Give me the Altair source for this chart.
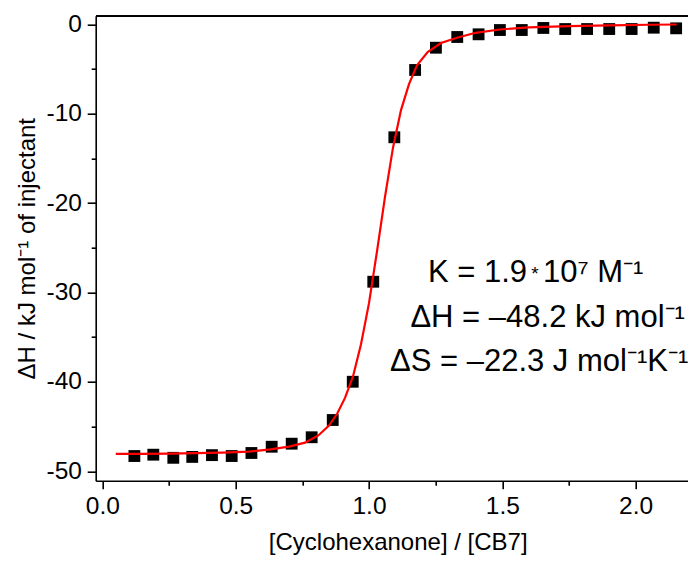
import altair as alt
import pandas as pd

# ---- data ----
ratio = [0.120, 0.191, 0.266, 0.337, 0.411, 0.485, 0.559, 0.635, 0.710, 0.785,
         0.864, 0.939, 1.016, 1.095, 1.173, 1.251, 1.331, 1.411, 1.491, 1.573,
         1.654, 1.736, 1.818, 1.901, 1.985, 2.068, 2.152]
heat = [-48.30, -48.15, -48.50, -48.40, -48.20, -48.30, -47.96, -47.26, -46.92, -46.20,
        -44.27, -39.99, -28.80, -12.64, -5.11, -2.62, -1.42, -1.12, -0.64, -0.64,
        -0.41, -0.53, -0.53, -0.53, -0.53, -0.38, -0.45]

fit_ratio = [0.05, 0.15, 0.25, 0.35, 0.45, 0.55, 0.63, 0.70, 0.76, 0.81, 0.85, 0.88,
             0.91, 0.94, 0.97, 1.00, 1.03, 1.06, 1.09, 1.12, 1.15, 1.18, 1.22, 1.27,
             1.33, 1.40, 1.49, 1.60, 1.75, 1.90, 2.05, 2.154]
fit_heat = [-48.07, -48.05, -48.02, -47.98, -47.92, -47.80, -47.55, -47.25, -46.80, -46.00,
            -44.90, -43.60, -41.80, -39.40, -35.80, -31.20, -25.40, -19.30, -13.80, -9.60,
            -6.70, -4.60, -3.10, -2.10, -1.50, -0.95, -0.58, -0.35, -0.20, -0.11, -0.05, -0.02]

# annotation pieces: text, x (data units), y (data units), align, font size
ann_text = ["K = 1.9", "*", "10\u2077 M\u207b\u00b9",
            "\u0394H = \u201348.2 kJ mol\u207b\u00b9",
            "\u0394S = \u201322.3 J mol\u207b\u00b9K\u207b\u00b9"]
ann_x = [1.5926, 1.6226, 1.6526, 1.670, 1.638]
ann_y = [-28.79, -28.60, -28.79, -33.90, -38.75]
ann_align = ["right", "center", "left", "center", "center"]
ann_size = [31, 19, 31, 31, 31]

x_major = [0.0, 0.5, 1.0, 1.5, 2.0]
x_minor = [0.25, 0.75, 1.25, 1.75]
y_major = [-50, -40, -30, -20, -10, 0]
y_minor = [-45, -35, -25, -15, -5]

x_title = "[Cyclohexanone] / [CB7]"
y_title = "\u0394H / kJ mol\u207b\u00b9 of injectant"

FONT = "Liberation Sans"

xscale = alt.Scale(domain=[-0.0251, 2.1965], nice=False, zero=False)
yscale = alt.Scale(domain=[-51.06, 0.962], nice=False, zero=False)

pts = pd.DataFrame({"r": ratio, "h": heat})
fit = pd.DataFrame({"r": fit_ratio, "h": fit_heat})
ann = pd.DataFrame({"t": ann_text, "x": ann_x, "y": ann_y, "a": ann_align, "s": ann_size})

common = dict(domainColor="black", domainWidth=1.6, tickColor="black", tickWidth=1.6,
              labelFont=FONT, labelColor="black", titleFont=FONT, titleColor="black",
              grid=False, titleFontWeight="normal")

squares = alt.Chart(pts).mark_square(size=140, color="black", opacity=1).encode(
    x=alt.X("r:Q", scale=xscale, axis=alt.Axis(
        orient="bottom", values=x_major, format=".1f", tickSize=8,
        labelFontSize=24.5, labelPadding=24.5, labelBaseline="alphabetic",
        title=x_title, titleFontSize=24, titleX=302, titleY=68.3,
        titleBaseline="alphabetic", titleAlign="center", **common)),
    y=alt.Y("h:Q", scale=yscale, axis=alt.Axis(
        orient="left", values=y_major,
        labelExpr="datum.value < 0 ? '-' + abs(datum.value) : '' + datum.value",
        tickSize=8.5, labelPadding=5.7, labelFontSize=24.5,
        title=y_title, titleFontSize=24, titleAngle=270, titleX=-60.7, titleY=232.5,
        titleBaseline="alphabetic", titleAlign="center", **common)),
)

line = alt.Chart(fit).mark_line(color="#ff0000", strokeWidth=2.2).encode(
    x=alt.X("r:Q", scale=xscale, axis=alt.Axis(
        orient="bottom", values=x_minor, tickSize=4.5, labels=False, domain=False,
        title=None, **common)),
    y=alt.Y("h:Q", scale=yscale, axis=alt.Axis(
        orient="left", values=y_minor, tickSize=4.5, labels=False, domain=False,
        title=None, **common)),
)

text_base = alt.Chart(ann).encode(
    x=alt.X("x:Q", scale=xscale, axis=alt.Axis(
        orient="top", ticks=False, labels=False, domain=True, title=None, **common)),
    y=alt.Y("y:Q", scale=yscale, axis=None),
    text="t:N",
)

text_layers = []
for al in ["right", "center", "left"]:
    for sz in sorted(set(ann_size)):
        text_layers.append(
            text_base.transform_filter(
                (alt.datum.a == al) & (alt.datum.s == sz)
            ).mark_text(font=FONT, fontSize=sz, color="black", align=al,
                        baseline="alphabetic")
        )

chart = alt.layer(squares, line, *text_layers).resolve_axis(
    x="independent", y="independent"
).properties(
    width=592.3, height=465,
    autosize=alt.AutoSizeParams(type="none"),
    padding={"left": 87.7, "top": 7.7, "right": 0, "bottom": 76.3},
    background="white",
).configure_view(stroke=None)

chart.save("out.html", embed_options={"renderer": "svg", "actions": False})
